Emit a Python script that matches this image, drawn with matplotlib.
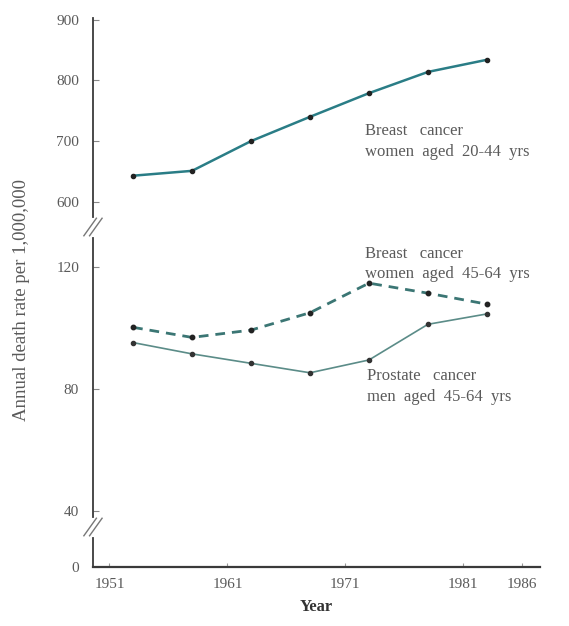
import matplotlib
matplotlib.use('Agg')

import matplotlib.pyplot as plt

# five-year periods, plotted at mid-points
years = [1953, 1958, 1963, 1968, 1973, 1978, 1983]
breast_20_44 = [643, 651, 700, 740, 779, 814, 834]
breast_45_64 = [100.2, 96.9, 99.3, 105.0, 114.7, 111.4, 107.8]
prostate_45_64 = [95.2, 91.5, 88.4, 85.3, 89.5, 101.2, 104.6]

xticks = [1951, 1961, 1971, 1981, 1986]
top_ticks = [600, 700, 800, 900]
mid_ticks = [40, 80, 120]
low_ticks = [0]

plt.rcParams['font.family'] = ['Liberation Serif', 'DejaVu Serif']
txt_col = "#5a5a5a"
axis_col = "#3a3a3a"

fig = plt.figure(figsize=(5.69, 6.26), dpi=100)
ax_top = fig.add_axes([0.1634, 0.6534, 0.7856, 0.318])
ax_mid = fig.add_axes([0.1634, 0.1741, 0.7856, 0.4457])
ax_low = fig.add_axes([0.1634, 0.0942, 0.7856, 0.0463])

xlim = (1949.6, 1987.5)
for ax in (ax_top, ax_mid, ax_low):
    ax.set_xlim(*xlim)
    for s in ("top", "right"):
        ax.spines[s].set_visible(False)
    ax.spines["left"].set_color(axis_col)
    ax.spines["left"].set_linewidth(1.3)
    ax.tick_params(axis="y", direction="in", length=4, color="#888888",
                   labelcolor=txt_col, labelsize=11, pad=10)
for ax in (ax_top, ax_mid):
    ax.spines["bottom"].set_visible(False)
    ax.set_xticks([])

ax_low.spines["bottom"].set_color(axis_col)
ax_low.spines["bottom"].set_linewidth(1.6)
ax_low.set_xticks(xticks)
ax_low.tick_params(axis="x", direction="in", length=3, color="#999999",
                   labelcolor=txt_col, labelsize=11, pad=8)

ax_top.set_ylim(575, 903)
ax_top.set_yticks(top_ticks)
ax_mid.set_ylim(38, 129.5)
ax_mid.set_yticks(mid_ticks)
ax_low.set_ylim(0, 10)
ax_low.set_yticks(low_ticks)

ax_top.plot(years, breast_20_44, color="#2a7d86", lw=1.8,
            marker="o", ms=3, mfc="#222222", mec="#222222")
ax_mid.plot(years, breast_45_64, color="#3b7674", lw=2.0, ls=(0, (3.5, 2.5)),
            marker="o", ms=3.2, mfc="#222222", mec="#222222")
ax_mid.plot(years, prostate_45_64, color="#5b8c88", lw=1.2,
            marker="o", ms=3, mfc="#333333", mec="#333333")

lab = dict(color=txt_col, fontsize=12, linespacing=1.4, va="center", ha="left")
ax_top.text(1972.7, 700, "Breast   cancer\nwomen  aged  20-44  yrs", **lab)
ax_mid.text(1972.7, 121, "Breast   cancer\nwomen  aged  45-64  yrs", **lab)
ax_mid.text(1972.8, 80.7, "Prostate   cancer\nmen  aged  45-64  yrs", **lab)


# axis break marks on the left spine
def brk_fig(ycen):
    x0 = 0.1634
    for d in (-0.005, 0.005):
        fig.add_artist(plt.Line2D([x0 - 0.011 + d, x0 + 0.011 + d],
                                  [ycen - 0.014, ycen + 0.014],
                                  color="#777777", lw=1.0))


brk_fig(1 - 227 / 626)
brk_fig(1 - 527 / 626)

ax_low.set_xlabel("Year", fontsize=12, fontweight="bold", color="#333333", labelpad=6)
fig.text(0.038, 0.52, "Annual death rate per 1,000,000", rotation=90,
         fontsize=13.5, color=txt_col, ha="center", va="center")

fig.savefig("out.png", dpi=100)
